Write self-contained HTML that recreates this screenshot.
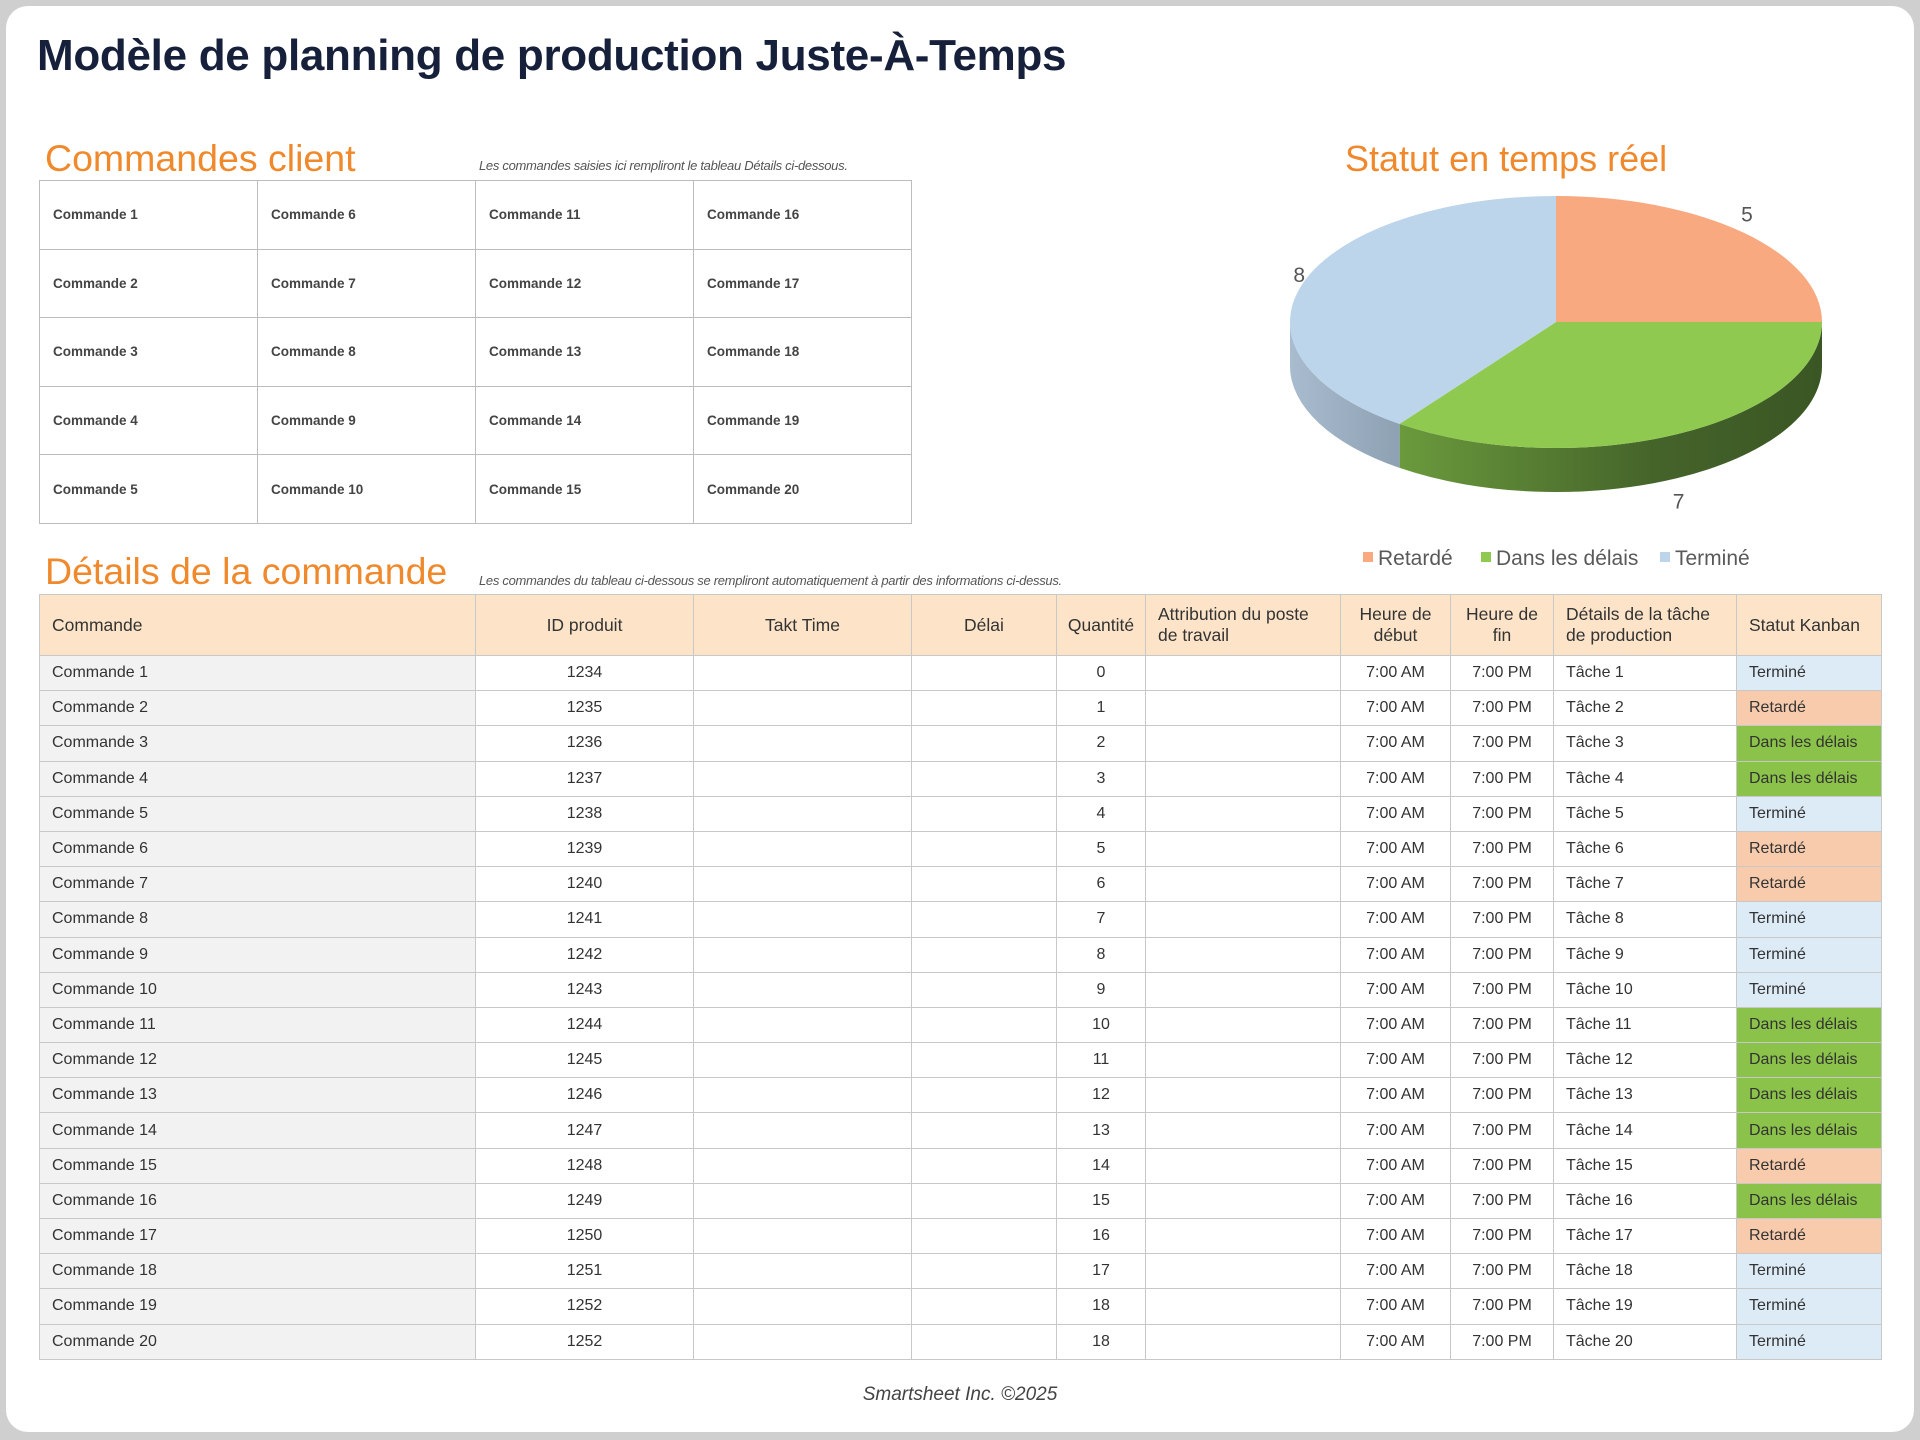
<!DOCTYPE html>
<html lang="fr"><head><meta charset="utf-8">
<style>
html,body{margin:0;padding:0}
body{width:1920px;height:1440px;background:#cfcfcf;position:relative;overflow:hidden;font-family:"Liberation Sans",sans-serif;color:#333}
#card{position:absolute;left:6px;top:6px;width:1908px;height:1426px;background:#fff;border-radius:22px}
.abs{position:absolute}
h1{position:absolute;left:37px;top:31px;margin:0;font-size:44px;font-weight:bold;color:#16203a;letter-spacing:-0.3px;white-space:nowrap}
.sec{position:absolute;color:#f0892b;font-size:37.5px;white-space:nowrap}
.note{position:absolute;font-size:13px;font-style:italic;color:#555;white-space:nowrap;letter-spacing:-0.3px}
#grid{position:absolute;left:39px;top:180px;border-collapse:collapse;table-layout:fixed;width:872px}
#grid td{width:218px;height:68.6px;border:1px solid #bdbdbd;padding:0 0 0 13px;font-size:13.5px;font-weight:bold;color:#444;box-sizing:border-box}
#det{position:absolute;left:39px;top:594px;border-collapse:collapse;table-layout:fixed;width:1842px}
#det th{background:#fde4c8;font-weight:normal;font-size:17.5px;color:#333;border:1px solid #c8c8c8;height:61px;line-height:21px;padding:0 8px;box-sizing:border-box}
#det td{height:35.2px;border:1px solid #c8c8c8;font-size:16px;color:#333;padding:0 12px;box-sizing:border-box;white-space:nowrap}
#det td.c{text-align:center}
#det td.cmd{background:#f2f2f2}
.T{background:#ddebf7}.R{background:#f8cbad}.D{background:#8bc34a}
.foot{position:absolute;left:0;width:1920px;top:1384px;text-align:center;font-style:italic;font-size:19px;color:#444}
</style></head><body>
<div id="card"></div>
<h1>Modèle de planning de production Juste-À-Temps</h1>

<div class="sec" style="left:45px;top:137px">Commandes client</div>
<div class="note" style="left:479px;top:158px">Les commandes saisies ici rempliront le tableau Détails ci-dessous.</div>
<table id="grid"><tbody id="gridBody"></tbody></table>

<div class="sec" style="left:1345px;top:138px;font-size:36px">Statut en temps réel</div>
<svg class="abs" style="left:0;top:0" width="1920" height="600" id="pie">
<defs>
<linearGradient id="gside" x1="0" x2="1" y1="0" y2="0"><stop offset="0" stop-color="#6a9a3c"/><stop offset="0.6" stop-color="#45642a"/><stop offset="1" stop-color="#3a5624"/></linearGradient>
<linearGradient id="bside" x1="0" x2="1" y1="0" y2="0"><stop offset="0" stop-color="#a9bccf"/><stop offset="1" stop-color="#8ea1b3"/></linearGradient>
</defs>
<g id="pieG"></g>
</svg>

<div class="sec" style="left:45px;top:550px">Détails de la commande</div>
<div class="note" style="left:479px;top:573px">Les commandes du tableau ci-dessous se rempliront automatiquement à partir des informations ci-dessus.</div>

<table id="det">
<colgroup><col style="width:436px"><col style="width:218px"><col style="width:218px"><col style="width:145px"><col style="width:89px"><col style="width:195px"><col style="width:110px"><col style="width:103px"><col style="width:183px"><col style="width:145px"></colgroup>
<thead><tr>
<th style="text-align:left;padding-left:12px">Commande</th>
<th>ID produit</th>
<th>Takt Time</th>
<th>Délai</th>
<th style="padding:0 2px">Quantité</th>
<th style="text-align:left;padding-left:12px">Attribution du poste de travail</th>
<th>Heure de début</th>
<th>Heure de fin</th>
<th style="text-align:left;padding-left:12px">Détails de la tâche de production</th>
<th style="text-align:left;padding-left:12px">Statut Kanban</th>
</tr></thead>
<tbody id="detBody"></tbody>
</table>

<div class="foot">Smartsheet Inc. ©2025</div>

<script>
// Pie data
const pieCategories = ["Retardé", "Dans les délais", "Terminé"];
const pieValues = [5, 7, 8];
// Table data
const productIds = [1234,1235,1236,1237,1238,1239,1240,1241,1242,1243,1244,1245,1246,1247,1248,1249,1250,1251,1252,1252];
const quantities = [0,1,2,3,4,5,6,7,8,9,10,11,12,13,14,15,16,17,18,18];
const statuses = ["T","R","D","D","T","R","R","T","T","T","D","D","D","D","R","D","R","T","T","T"];
const statusLabels = {T:"Terminé", R:"Retardé", D:"Dans les délais"};

// grid
const gb = document.getElementById('gridBody');
for (let r = 0; r < 5; r++) {
  const tr = document.createElement('tr');
  for (let c = 0; c < 4; c++) {
    const td = document.createElement('td');
    td.textContent = 'Commande ' + (c * 5 + r + 1);
    
    
    tr.appendChild(td);
  }
  gb.appendChild(tr);
}

// details
const db = document.getElementById('detBody');
for (let i = 0; i < productIds.length; i++) {
  const tr = document.createElement('tr');
  
  
  const cells = [
    ['Commande ' + (i + 1), 'cmd'], [productIds[i], 'c'], ['', ''], ['', ''], [quantities[i], 'c'],
    ['', ''], ['7:00 AM', 'c'], ['7:00 PM', 'c'], ['Tâche ' + (i + 1), ''], [statusLabels[statuses[i]], statuses[i]]
  ];
  cells.forEach(([t, cls]) => {
    const td = document.createElement('td');
    td.textContent = t;
    if (cls) td.className = cls;
    
    
    tr.appendChild(td);
  });
  db.appendChild(tr);
}

// pie
const NS = 'http://www.w3.org/2000/svg';
const g = document.getElementById('pieG');
const cx = 1556, cy = 322, rx = 266, ry = 126, depth = 44;
const topColors = ['#f8a97f', '#8fc94f', '#bcd5eb'];
const sideColors = ['#c47e57', 'url(#gside)', 'url(#bside)'];
const total = pieValues.reduce((a, b) => a + b, 0);
function pt(a, d) { return [cx + rx * Math.cos(a), cy + ry * Math.sin(a) + (d || 0)]; }
const angles = [];
let a0 = -Math.PI / 2;
pieValues.forEach(v => { const a1 = a0 + v / total * 2 * Math.PI; angles.push([a0, a1]); a0 = a1; });
angles.forEach(([s, e], i) => {
  const lo = Math.max(s, 0), hi = Math.min(e, Math.PI);
  const lo2 = Math.max(s - 2 * Math.PI, 0), hi2 = Math.min(e - 2 * Math.PI, Math.PI);
  [[lo, hi], [lo2, hi2]].forEach(([l, h]) => {
    if (h <= l) return;
    const p1 = pt(l), p2 = pt(h), p3 = pt(h, depth), p4 = pt(l, depth);
    const path = document.createElementNS(NS, 'path');
    path.setAttribute('d', `M${p1} A${rx},${ry} 0 0 1 ${p2} L${p3} A${rx},${ry} 0 0 0 ${p4} Z`);
    path.setAttribute('fill', sideColors[i]);
    
    
    g.appendChild(path);
  });
});
angles.forEach(([s, e], i) => {
  const p1 = pt(s), p2 = pt(e);
  const large = (e - s) > Math.PI ? 1 : 0;
  const path = document.createElementNS(NS, 'path');
  path.setAttribute('d', `M${cx},${cy} L${p1} A${rx},${ry} 0 ${large} 1 ${p2} Z`);
  path.setAttribute('fill', topColors[i]);
  
  
  g.appendChild(path);
  const mid = (s + e) / 2;
  const lx = cx + (rx + 4) * Math.cos(mid), ly = cy + (ry + 26) * Math.sin(mid) + (Math.sin(mid) > 0 ? depth : 0) + 7;
  const t = document.createElementNS(NS, 'text');
  t.setAttribute('x', lx); t.setAttribute('y', ly);
  t.setAttribute('font-size', '21'); t.setAttribute('fill', '#555');
  t.setAttribute('text-anchor', 'middle');
  t.setAttribute('font-family', 'Liberation Sans, sans-serif');
  t.textContent = pieValues[i];
  
  
  g.appendChild(t);
});
// legend
const legX = [1363, 1481, 1660];
pieCategories.forEach((c, i) => {
  const r = document.createElementNS(NS, 'rect');
  r.setAttribute('x', legX[i]); r.setAttribute('y', 552); r.setAttribute('width', 10); r.setAttribute('height', 10);
  r.setAttribute('fill', topColors[i]);
  
  
  g.appendChild(r);
  const t = document.createElementNS(NS, 'text');
  t.setAttribute('x', legX[i] + 15); t.setAttribute('y', 565);
  t.setAttribute('font-size', '21'); t.setAttribute('fill', '#595959');
  t.setAttribute('font-family', 'Liberation Sans, sans-serif');
  t.textContent = c;
  
  
  g.appendChild(t);
});
</script>
</body></html>
